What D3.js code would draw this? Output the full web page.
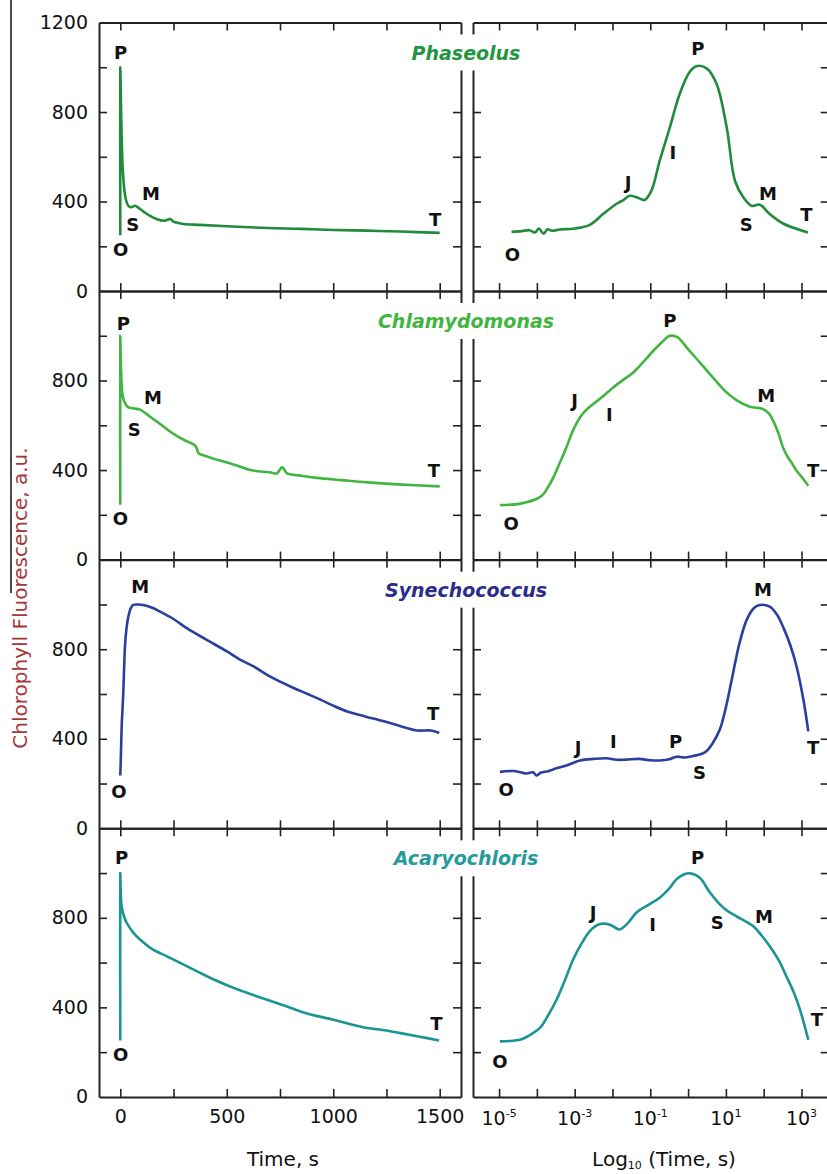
<!DOCTYPE html>
<html>
<head>
<meta charset="utf-8">
<script src="https://cdn.jsdelivr.net/npm/d3@7"></script>
<style>
body { margin: 0; background: #fff; }
svg { display: block; font-family: "DejaVu Sans", sans-serif; }
</style>
</head>
<body>
<svg id="fig" width="827" height="1174"></svg>
<script>
// species and colours
const species = ["Phaseolus", "Chlamydomonas", "Synechococcus", "Acaryochloris"];
const lineColors = ["#1f8b3b", "#40b540", "#2b3f9e", "#1b9494"];
const titleColors = ["#1f963f", "#40b540", "#2b2b8c", "#249a9a"];

// axis ticks
const timeTicks = [0, 250, 500, 750, 1000, 1250, 1500];
const timeLabels = [0, 500, 1000, 1500];
const logTicks = [-5, -4, -3, -2, -1, 0, 1, 2, 3];
const logLabels = [-5, -3, -1, 1, 3];
const fluoTicks = [200, 400, 600, 800, 1000];
const fluoLabels = [0, 400, 800];

// [time s, fluorescence a.u.]
const phaseolusLin = [[0,250],[0,1000],[2,900],[5,750],[9,600],[13,520],[18,460],[25,415],[35,385],[50,375],[69,381],[93,367],[120,348],[140,336],[170,322],[203,314],[220,318],[234,322],[250,310],[265,306],[296,300],[375,296],[500,290],[690,282],[850,278],[1003,273],[1160,270],[1316,266],[1500,260]];
const chlamyLin = [[0,245],[0,1000],[2,900],[5,810],[10,740],[17,710],[28,690],[38,680],[60,676],[93,670],[124,650],[155,628],[187,606],[225,578],[265,553],[305,532],[344,515],[356,503],[368,475],[394,465],[440,450],[501,434],[560,416],[610,400],[700,390],[736,385],[748,400],[760,412],[772,400],[783,385],[850,375],[924,365],[1040,355],[1160,345],[1300,336],[1500,327]];
const synLin = [[0,236],[3,330],[6.6,456],[14,605],[22,812],[30,900],[38,946],[50,985],[61,998],[85,1000],[108,998],[150,985],[187,968],[250,935],[312,894],[400,845],[501,790],[560,755],[626,723],[700,680],[814,627],[880,600],[940,575],[1000,548],[1066,522],[1150,500],[1238,478],[1320,455],[1395,437],[1458,437],[1498,426]];
const acaLin = [[0,252],[0,1000],[2,920],[5,860],[9,837],[18,805],[30,778],[60,735],[93,703],[150,660],[219,628],[300,590],[375,554],[450,520],[532,487],[610,460],[689,434],[770,408],[846,382],[920,362],[1002,345],[1080,325],[1160,308],[1240,298],[1316,285],[1400,270],[1497,252]];

// [log10 time, fluorescence a.u.]
const phaseolusLog = [[-4.67,265],[-4.4,268],[-4.2,272],[-4.05,262],[-3.95,280],[-3.82,256],[-3.72,276],[-3.6,270],[-3.39,275],[-3.0,280],[-2.6,296],[-2.25,344],[-1.9,389],[-1.7,408],[-1.54,426],[-1.3,415],[-1.15,407],[-0.97,449],[-0.75,583],[-0.48,733],[-0.22,882],[0.04,979],[0.22,1005],[0.49,995],[0.75,927],[1.02,733],[1.24,493],[1.46,419],[1.68,381],[1.9,386],[2.16,344],[2.51,302],[3.17,262]];
const chlamyLog = [[-4.98,244],[-4.5,248],[-4.28,256],[-4.0,272],[-3.84,290],[-3.7,325],[-3.57,365],[-3.4,430],[-3.22,501],[-3.05,575],[-2.86,635],[-2.7,668],[-2.51,695],[-2.25,730],[-1.98,769],[-1.7,805],[-1.45,836],[-1.2,880],[-0.92,933],[-0.7,970],[-0.48,1000],[-0.3,995],[-0.22,985],[0.0,940],[0.31,881],[0.7,805],[1.02,747],[1.3,710],[1.63,683],[1.98,673],[2.15,650],[2.25,621],[2.4,560],[2.51,501],[2.65,455],[2.75,430],[2.87,397],[3.0,370],[3.18,330]];
const synLog = [[-4.98,252],[-4.6,256],[-4.28,245],[-4.1,250],[-4.01,236],[-3.9,248],[-3.7,255],[-3.57,263],[-3.2,282],[-2.86,303],[-2.5,310],[-2.16,313],[-1.9,306],[-1.63,307],[-1.3,310],[-1.0,304],[-0.75,303],[-0.5,308],[-0.31,320],[-0.1,316],[0.13,323],[0.35,332],[0.49,345],[0.65,380],[0.84,441],[1.0,540],[1.19,693],[1.35,820],[1.55,931],[1.75,985],[1.9,998],[2.16,990],[2.35,955],[2.51,901],[2.7,820],[2.87,723],[3.05,575],[3.18,433]];
const acaLog = [[-4.98,248],[-4.7,250],[-4.45,255],[-4.2,275],[-3.92,308],[-3.7,365],[-3.48,434],[-3.25,525],[-3.04,614],[-2.8,690],[-2.6,741],[-2.4,768],[-2.25,774],[-2.05,768],[-1.81,748],[-1.6,775],[-1.37,823],[-1.05,858],[-0.75,890],[-0.5,930],[-0.31,972],[-0.1,995],[0.04,999],[0.31,979],[0.55,920],[0.84,860],[1.05,830],[1.28,807],[1.72,763],[1.95,720],[2.16,673],[2.4,610],[2.6,539],[2.8,465],[2.96,390],[3.18,255]];

// O-J-I-P-S-M-T marks: [letter, x value, fluorescence]
const phaseolusLinMarks = [["P",2,1065],["S",58,296],["M",144,437],["O",2,187],["T",1478,322]];
const phaseolusLogMarks = [["P",0.26,1084],["I",-0.4,620],["J",-1.59,486],["O",-4.65,165],["S",1.54,299],["M",2.11,437],["T",3.13,344]];
const chlamyLinMarks = [["P",14,1055],["M",153,722],["S",66,583],["O",0,182],["T",1473,397]];
const chlamyLogMarks = [["P",-0.48,1070],["J",-3.0,710],["I",-2.08,650],["M",2.07,732],["T",3.31,397],["O",-4.68,162]];
const synLinMarks = [["M",93,1082],["O",-6,166],["T",1469,515]];
const synLogMarks = [["M",1.98,1065],["J",-2.91,359],["I",-1.98,389],["P",-0.33,389],["S",0.3,248],["T",3.31,359],["O",-4.81,174]];
const acaLinMarks = [["P",6,1069],["O",2,188],["T",1484,330]];
const acaLogMarks = [["P",0.25,1069],["J",-2.51,823],["I",-0.94,771],["S",0.77,778],["M",2.01,808],["T",3.41,345],["O",-4.98,158]];

const linSeries = [phaseolusLin, chlamyLin, synLin, acaLin];
const logSeries = [phaseolusLog, chlamyLog, synLog, acaLog];
const linMarks = [phaseolusLinMarks, chlamyLinMarks, synLinMarks, acaLinMarks];
const logMarks = [phaseolusLogMarks, chlamyLogMarks, synLogMarks, acaLogMarks];

const svg = d3.select("#fig");
const tops = [22.5, 291, 559.7, 828.3];
const ph = 268.6;
const frameColor = "#222";
const plain = d3.format("d");

const xLin = d3.scaleLinear().domain([-100, 1600]).range([99, 461]);
const xLog = d3.scaleLinear().domain([-5.69, 3.72]).range([473, 828.7]);

function styleAxis(g) {
  g.select(".domain").attr("stroke", frameColor).attr("stroke-width", 2);
  g.selectAll(".tick line").attr("stroke", frameColor).attr("stroke-width", 1.6);
}

function drawPanel(i, x, xTicks, data, marks) {
  const y = d3.scaleLinear().domain([0, 1200]).range([tops[i] + ph, tops[i]]);
  const [x0, x1] = x.range();
  const g = svg.append("g");

  g.append("g").attr("transform", `translate(0,${y(0)})`)
    .call(d3.axisBottom(x).tickValues(xTicks).tickSize(-8).tickSizeOuter(0).tickFormat(""))
    .call(styleAxis);
  g.append("g").attr("transform", `translate(0,${y(1200)})`)
    .call(d3.axisTop(x).tickValues(xTicks).tickSize(-8).tickSizeOuter(0).tickFormat(""))
    .call(styleAxis);
  g.append("g").attr("transform", `translate(${x0},0)`)
    .call(d3.axisLeft(y).tickValues(fluoTicks).tickSize(-8).tickSizeOuter(0).tickFormat(""))
    .call(styleAxis);
  g.append("g").attr("transform", `translate(${x1},0)`)
    .call(d3.axisRight(y).tickValues(fluoTicks).tickSize(-8).tickSizeOuter(0).tickFormat(""))
    .call(styleAxis);

  g.append("path").datum(data)
    .attr("fill", "none")
    .attr("stroke", lineColors[i])
    .attr("stroke-width", 2.6)
    .attr("stroke-linejoin", "round")
    .attr("d", d3.line().curve(d3.curveCatmullRom.alpha(0.5)).x(d => x(d[0])).y(d => y(d[1])));

  g.selectAll("text.mark").data(marks).enter().append("text")
    .attr("class", "mark")
    .attr("x", d => x(d[1]))
    .attr("y", d => y(d[2]))
    .attr("text-anchor", "middle")
    .attr("dominant-baseline", "central")
    .attr("font-size", 18)
    .attr("font-weight", "bold")
    .attr("fill", "#111")
    .text(d => d[0]);

  return y;
}

species.forEach((name, i) => {
  const y = drawPanel(i, xLin, timeTicks, linSeries[i], linMarks[i]);
  drawPanel(i, xLog, logTicks, logSeries[i], logMarks[i]);

  // fluorescence tick labels, left column only
  const labs = i === 0 ? fluoLabels.concat([1200]) : fluoLabels;
  svg.append("g").attr("transform", `translate(${xLin.range()[0]},0)`)
    .call(d3.axisLeft(y).tickValues(labs).tickSize(0).tickPadding(11).tickFormat(plain))
    .call(g => g.select(".domain").remove())
    .selectAll("text").attr("font-size", 19).attr("fill", "#111")
    .style("font-family", "'DejaVu Sans', sans-serif");

  // species title over a white box that cuts the frames
  const t = svg.append("text")
    .attr("x", 466)
    .attr("y", tops[i] + 37)
    .attr("text-anchor", "middle")
    .attr("font-size", 19)
    .attr("font-weight", "bold")
    .attr("font-style", "italic")
    .attr("fill", titleColors[i])
    .text(name);
  const bb = t.node().getBBox();
  svg.insert("rect", () => t.node())
    .attr("x", bb.x - 4).attr("y", tops[i] + 12)
    .attr("width", bb.width + 8).attr("height", 36)
    .attr("fill", "#fff");
});

// bottom tick labels
const yBottom = tops[3] + ph;
svg.append("g").attr("transform", `translate(0,${yBottom})`)
  .call(d3.axisBottom(xLin).tickValues(timeLabels).tickSize(0).tickPadding(13).tickFormat(plain))
  .call(g => g.select(".domain").remove())
  .selectAll("text").attr("font-size", 19).attr("fill", "#111")
  .style("font-family", "'DejaVu Sans', sans-serif");

const logText = svg.append("g").selectAll("text").data(logLabels).enter().append("text")
  .attr("x", d => xLog(d))
  .attr("y", yBottom + 28)
  .attr("text-anchor", "middle")
  .attr("font-size", 19)
  .attr("fill", "#111");
logText.append("tspan").text("10");
logText.append("tspan").attr("dy", -8).attr("font-size", 11).text(d => d);

svg.append("text")
  .attr("x", 283).attr("y", 1166)
  .attr("text-anchor", "middle")
  .attr("font-size", 20).attr("fill", "#111")
  .text("Time, s");

const logTitle = svg.append("text")
  .attr("x", 664).attr("y", 1166)
  .attr("text-anchor", "middle")
  .attr("font-size", 20).attr("fill", "#111");
logTitle.append("tspan").text("Log");
logTitle.append("tspan").attr("dy", 3).attr("font-size", 11).text("10");
logTitle.append("tspan").attr("dy", -3).text(" (Time, s)");

// y axis title
svg.append("text")
  .attr("transform", "translate(20,598) rotate(-90)")
  .attr("dominant-baseline", "central")
  .attr("text-anchor", "middle")
  .attr("font-size", 20)
  .attr("fill", "#a5383a")
  .text("Chlorophyll Fluorescence, a.u.");

// stray vertical rule at the far left
svg.append("line")
  .attr("x1", 11).attr("x2", 11).attr("y1", 0).attr("y2", 593)
  .attr("stroke", "#111").attr("stroke-width", 1.5);
</script>
</body>
</html>
